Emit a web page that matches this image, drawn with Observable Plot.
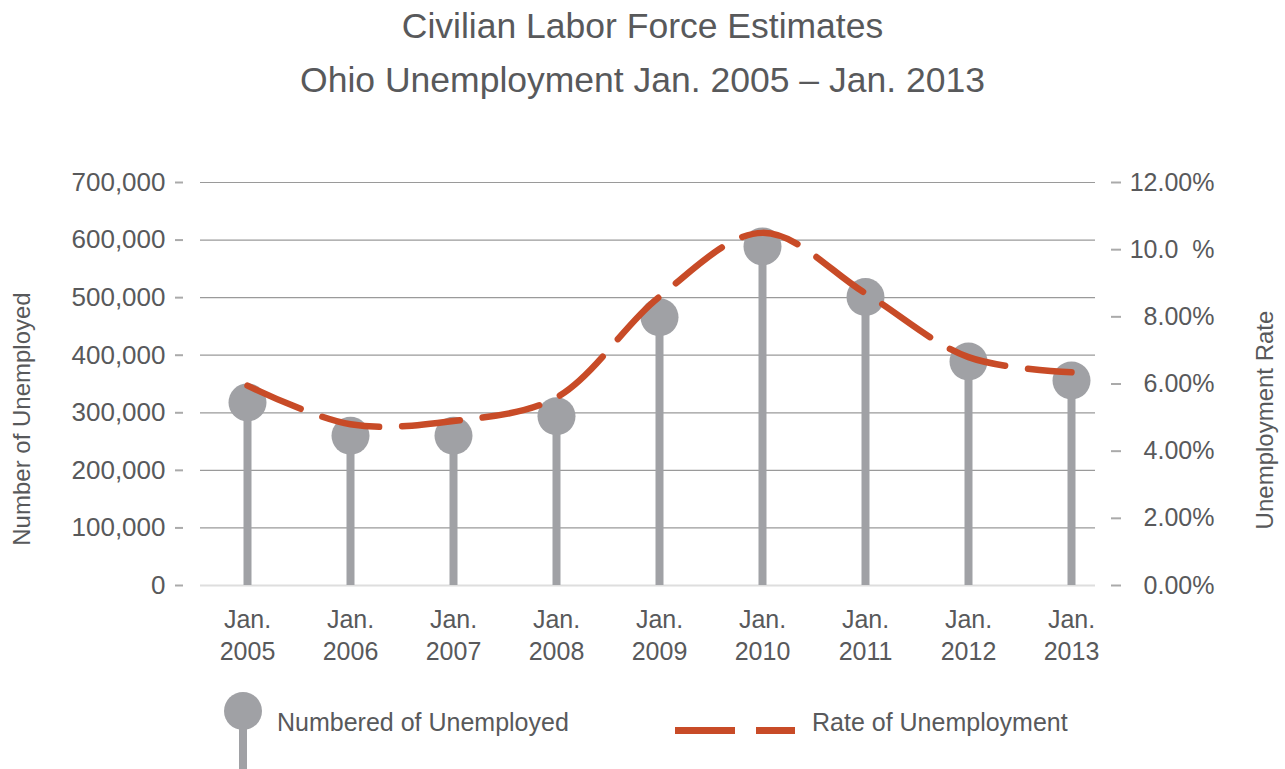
<!DOCTYPE html>
<html>
<head>
<meta charset="utf-8">
<script src="https://cdn.jsdelivr.net/npm/d3@7"></script>
<script src="https://cdn.jsdelivr.net/npm/@observablehq/plot@0.6"></script>
<style>
  html, body { margin: 0; padding: 0; background: #fff; }
  #wrap { position: relative; width: 1285px; height: 769px; overflow: hidden;
          font-family: "Liberation Sans", Arial, Helvetica, sans-serif; color: #58595b; }
  .title { position: absolute; left: 0; top: -1px; width: 1285px; text-align: center;
           font-size: 35.5px; line-height: 54px; }
  #chart { position: absolute; left: 0; top: 130px; }
  .ylab { position: absolute; width: 400px; text-align: center; font-size: 24px; line-height: 30px;
          transform: translate(-50%, -50%) rotate(-90deg); white-space: nowrap; }
  .leg { position: absolute; }
  .legtext { position: absolute; font-size: 25px; line-height: 30px; white-space: nowrap; }
</style>
</head>
<body>
<div id="wrap">
  <div class="title">Civilian Labor Force Estimates<br>Ohio Unemployment Jan. 2005 – Jan. 2013</div>
  <div id="chart"></div>
  <div class="ylab" style="left:22px; top:419px;">Number of Unemployed</div>
  <div class="ylab" style="left:1265px; top:420px;">Unemployment Rate</div>
  <div class="leg" style="left:224px; top:692px; width:38px; height:38px; border-radius:50%; background:#a0a1a5;"></div>
  <div class="leg" style="left:239px; top:711px; width:8px; height:58px; background:#a0a1a5;"></div>
  <div class="legtext" style="left:277px; top:707px;">Numbered of Unemployed</div>
  <div class="leg" style="left:675px; top:727px; width:60px; height:7px; background:#c84b27;"></div>
  <div class="leg" style="left:756px; top:727px; width:39px; height:7px; background:#c84b27;"></div>
  <div class="legtext" style="left:812px; top:707px;">Rate of Unemployment</div>
</div>
<script>
// ---- data ----
const years = ["2005", "2006", "2007", "2008", "2009", "2010", "2011", "2012", "2013"];
const unemployed = [318000, 260000, 260000, 294000, 466000, 589000, 501000, 389000, 356000];
const rate = [5.95, 4.8, 4.9, 5.6, 8.6, 10.5, 8.7, 6.8, 6.35];
const leftTicks = [0, 100000, 200000, 300000, 400000, 500000, 600000, 700000];
const rateTicks = [0, 2, 4, 6, 8, 10, 12];
const rateTickLabels = ["0.00%", "2.00%", "4.00%", "6.00%", "8.00%", "10.0\u00a0\u00a0%", "12.00%"];

const yMax = 700000, rateMax = 12;
const toY = r => r * yMax / rateMax;

const data = years.map((y, i) => ({year: y, unemployed: unemployed[i], rate: rate[i]}));
const rightTicks = rateTicks.map((t, i) => ({v: t, label: rateTickLabels[i]}));

const grey = "#a0a1a5", orange = "#c84b27";

const chart = Plot.plot({
  width: 1285,
  height: 540,
  marginTop: 52,
  marginBottom: 85,
  marginLeft: 200,
  marginRight: 190,
  style: {fontFamily: "'Liberation Sans', Arial, Helvetica, sans-serif", fontSize: "25px", color: "#58595b", background: "transparent"},
  x: {type: "point", domain: years, insetLeft: 23, padding: 0.22},
  y: {domain: [0, yMax]},
  marks: [
    Plot.ruleY(leftTicks.filter(d => d > 0), {stroke: "#9a9a9a", strokeWidth: 1.2}),
    Plot.ruleY([0], {stroke: "#dedede", strokeWidth: 2}),
    Plot.axisY({ticks: leftTicks, tickSize: 8, tickPadding: 10, dx: -17, tickFormat: d3.format(","),
                stroke: "#aaaaaa", strokeWidth: 2, label: null, fontSize: 26}),
    Plot.axisY({anchor: "right", ticks: rateTicks.map(toY), tickSize: 10, dx: 15, tickFormat: () => "",
                stroke: "#aaaaaa", strokeWidth: 2, label: null}),
    Plot.text(rightTicks, {y: d => toY(d.v), text: "label", frameAnchor: "right", dx: 119, textAnchor: "end", fill: "#58595b"}),
    Plot.axisX({tickSize: 0, tickPadding: 19, lineHeight: 1.3, tickFormat: d => "Jan.\n" + d, label: null}),
    Plot.ruleX(data, {x: "year", y1: 0, y2: "unemployed", stroke: grey, strokeWidth: 8}),
    Plot.dot(data, {x: "year", y: "unemployed", r: 19, fill: grey}),
    Plot.line(data, {x: "year", y: d => toY(d.rate), stroke: orange, strokeWidth: 6.5,
                     strokeDasharray: "58,23", curve: "catmull-rom"})
  ]
});
document.getElementById("chart").appendChild(chart);
</script>
</body>
</html>
